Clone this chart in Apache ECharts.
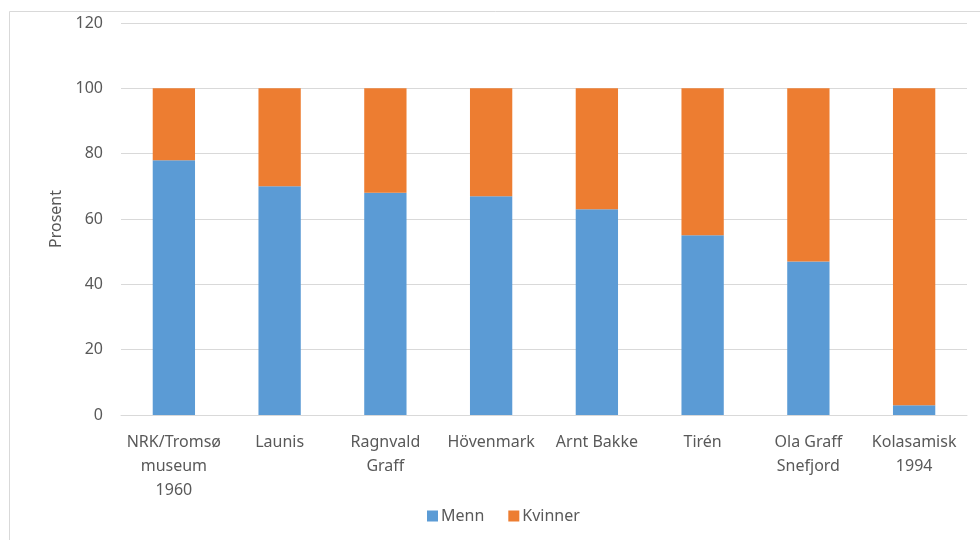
<!DOCTYPE html>
<html><head><meta charset="utf-8">
<script src="https://cdn.jsdelivr.net/npm/echarts@6/dist/echarts.min.js"></script>
<style>html,body{margin:0;padding:0;background:#fff}#c{width:980px;height:540px}</style>
</head><body><div id="c"></div>
<script>
const categories = ['NRK/Tromsø\nmuseum\n1960', 'Launis', 'Ragnvald\nGraff', 'Hövenmark', 'Arnt Bakke', 'Tirén', 'Ola Graff\nSnefjord', 'Kolasamisk\n1994'];
const menn = [78, 70, 68, 67, 63, 55, 47, 3];
const kvinner = [22, 30, 32, 33, 37, 45, 53, 97];
const yTicks = { min: 0, max: 120, interval: 20 };

const font = 'Noto Sans';
const chart = echarts.init(document.getElementById('c'));
chart.setOption({
  animation: false,
  textStyle: { fontFamily: font },
  graphic: [{ type: 'rect', shape: { x: 9.5, y: 11.5, width: 1000, height: 600 }, style: { fill: 'none', stroke: '#d9d9d9', lineWidth: 1 }, silent: true }],
  grid: { left: 121, right: 13, top: 23, bottom: 125 },
  legend: {
    bottom: 11, left: 422, itemWidth: 11, itemHeight: 11, itemGap: 24, icon: 'rect',
    textStyle: { color: '#595959', fontSize: 16, fontFamily: font, padding: [0, 0, 0, -2] },
    data: ['Menn', 'Kvinner']
  },
  xAxis: {
    type: 'category', data: categories,
    axisLine: { lineStyle: { color: '#d9d9d9' } },
    axisTick: { show: false },
    axisLabel: { color: '#595959', fontSize: 16, fontFamily: font, margin: 15, lineHeight: 24, interval: 0 }
  },
  yAxis: {
    type: 'value', min: yTicks.min, max: yTicks.max, interval: yTicks.interval,
    name: 'Prosent', nameLocation: 'middle', nameGap: 57,
    nameTextStyle: { color: '#595959', fontSize: 16, fontFamily: font },
    axisLine: { show: false }, axisTick: { show: false },
    axisLabel: { color: '#595959', fontSize: 16, fontFamily: font, margin: 18 },
    splitLine: { lineStyle: { color: '#d9d9d9' } }
  },
  series: [
    { name: 'Menn', type: 'bar', stack: 't', data: menn, barWidth: '40%', itemStyle: { color: '#5B9BD5' } },
    { name: 'Kvinner', type: 'bar', stack: 't', data: kvinner, barWidth: '40%', itemStyle: { color: '#ED7D31' } }
  ]
});
</script></body></html>
